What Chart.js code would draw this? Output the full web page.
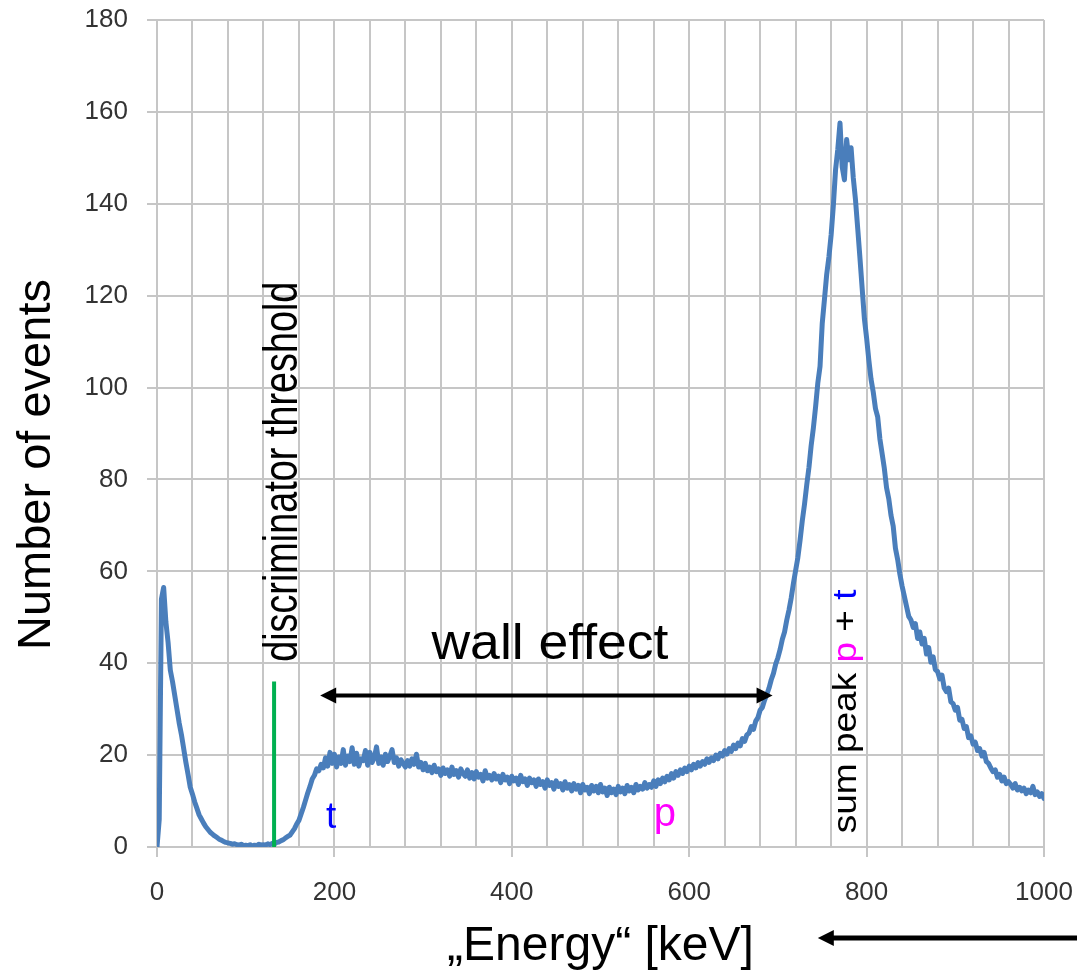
<!DOCTYPE html>
<html>
<head>
<meta charset="utf-8">
<title>Energy spectrum</title>
<script src="https://cdn.jsdelivr.net/npm/chart.js"></script>
<style>
  html, body { margin: 0; padding: 0; background: #fff; }
  #wrap { width: 1077px; height: 976px; position: relative; }
</style>
</head>
<body>
<div id="wrap"><canvas id="spectrum"></canvas></div>
<script>
// counts per 2.5 keV bin, first bin at 0 keV (8 bins = 20 keV per row)
var binWidth = 2.5;
var counts = [
  0, 6, 54, 56.5, 49, 44.5, 38.5, 36,                      // 0
  33, 30, 27, 24.5, 21.5, 18.5, 15.8, 13,                  // 20
  11.5, 9.8, 8.4, 7, 6.1, 5.2, 4.4, 3.8,                   // 40
  3.2, 2.8, 2.4, 2.1, 1.7, 1.5, 1.2, 1.0,                  // 60
  0.9, 0.8, 0.6, 0.7, 0.5, 0.4, 0.6, 0.3,                  // 80
  0.4, 0.3, 0.5, 0.2, 0.4, 0.3, 0.6, 0.4,                  // 100
  0.5, 0.4, 0.7, 0.5, 0.8, 0.7, 1.0, 1.1,                  // 120
  1.4, 1.6, 2.0, 2.3, 2.6, 3.3, 4.0, 5.0,                  // 140
  5.8, 7.2, 8.6, 10.2, 11.8, 13.2, 14.8, 15.6,             // 160
  17, 16.6, 18, 17.2, 19.4, 17.6, 20.6, 18.2,              // 180
  20.2, 17.4, 19.6, 18.2, 21.2, 17.8, 19.8, 18.6,          // 200
  21.6, 18, 20.4, 17.6, 19.2, 18.8, 21, 17.8,              // 220
  20.6, 18.4, 19.4, 21.8, 18.2, 19.6, 17.8, 20.2,          // 240
  18.6, 19.8, 21.2, 18.4, 19.4, 17.6, 19, 18.2,            // 260
  17.4, 18.8, 17.6, 19.2, 18, 20.2, 17.4, 18.4,            // 280
  16.8, 18.2, 16.6, 17.4, 16.2, 17.8, 16.4, 17,            // 300
  15.6, 17.2, 16, 16.8, 15.4, 17.4, 15.8, 16.6,            // 320
  15.2, 17, 16, 15.4, 16.8, 15, 16.2, 14.8,                // 340
  16.4, 15.2, 15.8, 14.4, 16.6, 15, 15.6, 14.6,            // 360
  16, 14.8, 15.4, 14, 15.8, 14.6, 15.2, 13.8,              // 380
  15.4, 14.4, 15, 13.6, 15.6, 14.2, 14.8, 13.4,            // 400
  15, 14, 14.6, 13.2, 14.8, 13.6, 14.2, 12.8,              // 420
  14.6, 13.4, 14, 12.6, 14.4, 13.2, 13.8, 12.4,            // 440
  14.2, 12.8, 13.6, 12.2, 13.8, 12.6, 13.4, 11.8,          // 460
  13.6, 12.4, 13, 11.6, 13.4, 12.2, 13.2, 11.8,            // 480
  13.6, 12, 12.8, 11.2, 13, 11.8, 12.6, 11.4,              // 500
  13.2, 12, 12.8, 11.6, 13.4, 12.2, 13, 11.8,              // 520
  13.6, 12.4, 13.2, 12.6, 14, 12.8, 13.6, 13,              // 540
  14.4, 13.2, 14.6, 13.8, 15, 14.2, 15.4, 14.6,            // 560
  16, 15, 16.4, 15.6, 16.8, 16, 17.2, 16.4,                // 580
  17.6, 16.8, 18, 17.2, 18.4, 17.6, 18.6, 18,              // 600
  19.2, 18.4, 19.4, 18.8, 20, 19.2, 20.4, 19.8,            // 620
  21, 20.2, 21.4, 20.8, 22.2, 21.4, 22.6, 22,              // 640
  23.6, 23, 24.4, 24.8, 26.2, 25.6, 27.4, 28.2,            // 660
  29.8, 30.4, 32, 33.2, 34.6, 36.4, 37.8, 39.8,            // 680
  41.2, 43, 45.2, 46.8, 49.4, 51.6, 54.2, 57.4,            // 700
  60.2, 63, 66.8, 71, 74.6, 78.8, 82.6, 87.4,              // 720
  91.2, 95.8, 101, 104.6, 114, 119.2, 124.6, 128.4,        // 740
  133.2, 139.6, 147.4, 151.8, 157.6, 148, 145.2, 154,      // 760
  149.6, 152.2, 145.6, 140.8, 134.6, 128.2, 121.6, 115,    // 780
  110.8, 106, 101.8, 99, 95.4, 93.6, 88.8, 85.6,           // 800
  82.4, 78.2, 75.8, 72.2, 69.8, 65, 62.6, 59.4,            // 820
  56.8, 54.6, 52.4, 50.2, 49.4, 47.8, 48.6, 45.4,          // 840
  46.8, 44.2, 45.4, 42, 43.4, 40.2, 41.4, 38.6,            // 860
  38.2, 36.6, 37.4, 34.6, 33.8, 34.6, 31.6, 31.2,          // 880
  29.8, 30.4, 27.6, 27.8, 25.8, 26.2, 23.8, 24.2,          // 900
  22.4, 22.8, 21, 21.4, 19.8, 20.6, 18.6, 18.2,            // 920
  17.2, 16.4, 16.8, 15.2, 15.8, 14.4, 15.2, 13.8,          // 940
  14.2, 13.6, 12.8, 13.8, 12.4, 13, 12.2, 12.8,            // 960
  11.6, 12.4, 11.8, 13.2, 11.4, 12, 11, 11.6,              // 980
  10.6                                                     // 1000
];
var energies = counts.map(function (c, i) { return i * binWidth; });

var xMax = 1000, xGridStep = 40, xLabelStep = 200;
var yMax = 180, yStep = 20;

// annotation anchors, in keV / counts
var threshold = 132, thresholdTop = 36;
var wallFrom = 184, wallTo = 694, wallLevel = 33;

var lineBlue = '#4a7ebb';
var gridGray = '#c6c6c6';
var sans = '"Liberation Sans", Arial, sans-serif';

// draws coloured runs of text; stretch widens along the screen x axis
function textRuns(ctx, runs, x, y, angle, stretch, font) {
  ctx.save();
  ctx.translate(x, y);
  ctx.scale(stretch, 1);
  ctx.rotate(angle);
  ctx.font = font;
  ctx.textAlign = 'left';
  ctx.textBaseline = 'alphabetic';
  var pos = 0;
  runs.forEach(function (r) {
    ctx.fillStyle = r[1];
    ctx.fillText(r[0], pos, 0);
    pos += ctx.measureText(r[0]).width;
  });
  ctx.restore();
}

function arrowHead(ctx, tipX, y, dir) {
  ctx.beginPath();
  ctx.moveTo(tipX, y);
  ctx.lineTo(tipX - dir * 16, y - 8);
  ctx.lineTo(tipX - dir * 16, y + 8);
  ctx.closePath();
  ctx.fill();
}

var notes = {
  id: 'notes',
  afterDatasetsDraw: function (chart) {
    var ctx = chart.ctx;
    var xs = chart.scales.x, ys = chart.scales.y;
    var area = chart.chartArea;

    // discriminator threshold marker
    ctx.save();
    ctx.strokeStyle = '#00b050';
    ctx.lineWidth = 4;
    ctx.beginPath();
    ctx.moveTo(xs.getPixelForValue(threshold), ys.getPixelForValue(0));
    ctx.lineTo(xs.getPixelForValue(threshold), ys.getPixelForValue(thresholdTop));
    ctx.stroke();

    // wall effect range
    var wy = ys.getPixelForValue(wallLevel);
    var wx1 = xs.getPixelForValue(wallFrom), wx2 = xs.getPixelForValue(wallTo);
    ctx.strokeStyle = '#000';
    ctx.fillStyle = '#000';
    ctx.lineWidth = 4;
    ctx.beginPath();
    ctx.moveTo(wx1 + 12, wy);
    ctx.lineTo(wx2 - 12, wy);
    ctx.stroke();
    arrowHead(ctx, wx1, wy, -1);
    arrowHead(ctx, wx2, wy, 1);

    // arrow under the energy axis
    var by = area.bottom + 91;
    var bx = xs.getPixelForValue(745);
    ctx.lineWidth = 5;
    ctx.beginPath();
    ctx.moveTo(bx + 12, by);
    ctx.lineTo(chart.width, by);
    ctx.stroke();
    arrowHead(ctx, bx, by, -1);
    ctx.restore();

    var up = -Math.PI / 2;
    textRuns(ctx, [['Number of events', '#000']], area.left - 107, area.bottom - 197, up, 1, '47px ' + sans);
    textRuns(ctx, [['discriminator threshold', '#000']],
      xs.getPixelForValue(157.5), ys.getPixelForValue(40.3), up, 1.28, '37.8px ' + sans);
    textRuns(ctx, [['sum peak ', '#000'], ['p', '#ff00ff'], [' + ', '#000'], ['t', '#0000ff']],
      xs.getPixelForValue(787.7), ys.getPixelForValue(3), up, 0.92, '37px ' + sans);

    ctx.save();
    ctx.font = '50px ' + sans;
    ctx.textAlign = 'left';
    var ww = ctx.measureText('wall effect').width * 1.07;
    ctx.restore();
    textRuns(ctx, [['wall effect', '#000']], xs.getPixelForValue(443) - ww / 2, ys.getPixelForValue(40.9), 0, 1.07, '50px ' + sans);

    ctx.save();
    ctx.textAlign = 'left';
    ctx.textBaseline = 'alphabetic';
    ctx.font = '37px ' + sans;
    ctx.fillStyle = '#0000ff';
    ctx.fillText('t', xs.getPixelForValue(190.5), ys.getPixelForValue(4.1));
    ctx.font = '40px ' + sans;
    ctx.fillStyle = '#ff00ff';
    ctx.fillText('p', xs.getPixelForValue(560), ys.getPixelForValue(4.5));
    ctx.restore();
  }
};

var points = energies.map(function (e, i) { return { x: e, y: counts[i] }; });

new Chart(document.getElementById('spectrum'), {
  type: 'line',
  data: {
    datasets: [{
      data: points,
      borderColor: lineBlue,
      borderWidth: 5,
      pointRadius: 0,
      tension: 0,
      borderJoinStyle: 'round',
      borderCapStyle: 'round'
    }]
  },
  options: {
    responsive: true,
    maintainAspectRatio: false,
    animation: false,
    layout: { padding: { top: 20, right: 33, left: 0, bottom: 0 } },
    plugins: { legend: { display: false }, tooltip: { enabled: false } },
    scales: {
      x: {
        type: 'linear',
        min: 0,
        max: xMax,
        afterFit: function (s) {
          s.height = 129;
          s.paddingLeft = 0;
          s.paddingRight = 0;
        },
        border: { color: gridGray, width: 2 },
        grid: {
          color: gridGray,
          lineWidth: 2,
          tickLength: 10,
          tickColor: function (c) { return c.tick && c.tick.value % xLabelStep === 0 ? gridGray : 'rgba(0,0,0,0)'; }
        },
        ticks: {
          stepSize: xGridStep,
          autoSkip: false,
          maxRotation: 0,
          padding: 20,
          color: '#333',
          font: { family: sans, size: 26 },
          callback: function (v) { return v % xLabelStep === 0 ? v : ''; }
        },
        title: {
          display: true,
          text: '\u201eEnergy\u201c [keV]',
          color: '#000',
          font: { family: sans, size: 48 },
          padding: { top: 0, bottom: 0 }
        }
      },
      y: {
        min: 0,
        max: yMax,
        afterFit: function (s) {
          s.width = 157;
          s.paddingTop = 0;
          s.paddingBottom = 0;
        },
        border: { color: gridGray, width: 2 },
        grid: { color: gridGray, lineWidth: 2, tickLength: 10 },
        ticks: {
          stepSize: yStep,
          padding: 19,
          color: '#333',
          font: { family: sans, size: 26 }
        }
      }
    }
  },
  plugins: [notes]
});
</script>
</body>
</html>
